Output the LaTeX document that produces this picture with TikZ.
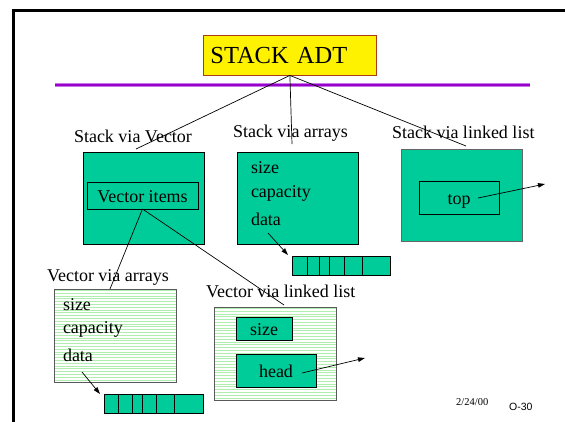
\documentclass[tikz,border=0pt]{standalone}
\usepackage{fontspec}
\setmainfont{Liberation Serif}
\newfontfamily\arialfont{Liberation Sans}
\usetikzlibrary{arrows.meta,calc}
\definecolor{tealfill}{RGB}{0,204,153}
\definecolor{stripecol}{RGB}{175,238,175}
\definecolor{purp}{RGB}{153,0,204}
\definecolor{purplight}{RGB}{200,120,230}
\definecolor{titleborder}{RGB}{170,60,20}
\begin{document}
\begin{tikzpicture}[x=1pt,y=-1pt,
  lbl/.style={inner sep=0pt, outer sep=0pt, anchor=base west, font=\fontsize{18}{20}\selectfont},
  tealbox/.style={draw=black, line width=0.8pt, fill=tealfill, inner sep=0pt, outer sep=0pt, anchor=north west},
  innerbox/.style={tealbox, font=\fontsize{18}{20}\selectfont, text height=14pt, text depth=0pt},
  stripebox/.style={draw=black!65, line width=0.8pt, fill=white, inner sep=0pt, outer sep=0pt, anchor=north west,
    path picture={\foreach \yy in {1.5,4.3,...,100} \draw[stripecol, line width=1pt]
      ([yshift=-\yy pt]path picture bounding box.north west) -- ([yshift=-\yy pt]path picture bounding box.north east);}},
  cellrow/.style={draw=black, line width=0.8pt, fill=tealfill, inner sep=0pt, outer sep=0pt, anchor=north west, minimum height=19pt},
  conn/.style={line width=0.7pt},
  arr/.style={line width=0.7pt, -{Triangle[length=7pt,width=4.5pt]}}]

\useasboundingbox (0,0) rectangle (565,421);

% slide border
\draw[line width=2.6pt] (13.5,440) -- (13.5,10.5) -- (580,10.5);

% title
\node[draw=titleborder, fill=yellow, line width=0.8pt, anchor=north west,
      minimum height=39.6pt, inner xsep=7pt, inner ysep=0pt, text width=159pt, align=left,
      font=\fontsize{24.5}{26}\selectfont] (title) at (203,35) {STACK ADT};

% purple rule
\draw[purplight, line width=3.6pt] (55,85) -- (530,85);
\draw[purp, line width=2pt] (55,85) -- (530,85);

% top level labels
\node[lbl] (lsv) at (74,142) {Stack via Vector};
\node[lbl] (lsa) at (233,137) {Stack via arrays};
\node[lbl] (lsl) at (392,138) {Stack via linked list};

% Stack via Vector
\node[tealbox, minimum width=121pt, minimum height=92pt] (svbox) at (83,152) {};
\node[innerbox, minimum width=111pt, minimum height=27pt] (vitems) at (87,182) {Vector items};

% Stack via arrays
\node[tealbox, minimum width=121pt, minimum height=92pt] (sabox) at (237,152) {};
\node[lbl] (sasize) at (251,173) {size};
\node[lbl] (sacap) at (251,197) {capacity};
\node[lbl] (sadata) at (251,225) {data};
\node[cellrow, minimum width=98pt] (saarr) at (292,256) {};
\foreach \xx in {307,319,329,344,362} \draw[line width=0.8pt] (\xx,256) -- (\xx,275);

% Stack via linked list
\node[tealbox, draw=black!60, minimum width=121pt, minimum height=92pt] (slbox) at (401,149) {};
\node[innerbox, minimum width=80pt, minimum height=33pt] (top) at (419,181) {top};

% Vector via arrays
\node[lbl] (lva) at (47,281) {Vector via arrays};
\node[stripebox, minimum width=122pt, minimum height=93pt] (vabox) at (54,289) {};
\node[lbl] (vasize) at (63,310) {size};
\node[lbl] (vacap) at (63,333.3) {capacity};
\node[lbl] (vadata) at (63,361.7) {data};
\node[cellrow, minimum width=99pt] (vaarr) at (104,394) {};
\foreach \xx in {118,132,142,156,174} \draw[line width=0.8pt] (\xx,394) -- (\xx,413);

% Vector via linked list
\node[lbl] (lvl) at (206,297) {Vector via linked list};
\node[stripebox, minimum width=122pt, minimum height=93pt] (vlbox) at (214,307) {};
\node[innerbox, minimum width=56pt, minimum height=23pt] (vlsize) at (236,317) {size};
\node[innerbox, minimum width=80pt, minimum height=33pt] (vlhead) at (236,354) {head};

% connector end points
\coordinate (csv) at (136,149);
\coordinate (csa) at (292,144);
\coordinate (csl) at (466,146);
\coordinate (cva) at (110,289);
\coordinate (cvl) at (284,305);
\coordinate (sadatafrom) at (268,233);
\coordinate (sadatato) at (288,255);
\coordinate (vadatafrom) at (82,372);
\coordinate (vadatato) at (100,394);
\coordinate (topfrom) at (478,198);
\coordinate (topto) at (545,184);
\coordinate (headfrom) at (302,373);
\coordinate (headto) at (365,358);

% connectors
\draw[conn] (title.south) -- (csv);
\draw[conn] (title.south) -- (csa);
\draw[conn] (title.south) -- (csl);
\draw[conn] (vitems.south) -- (cva);
\draw[conn] (vitems.south) -- (cvl);
\draw[arr] (sadatafrom) -- (sadatato);
\draw[arr] (vadatafrom) -- (vadatato);
\draw[arr] (topfrom) -- (topto);
\draw[arr] (headfrom) -- (headto);

% footer
\node[inner sep=0pt, anchor=base west, font=\fontsize{10.5}{12}\selectfont] (date) at (456,405) {2/24/00};
\node[inner sep=0pt, anchor=base west, font=\arialfont\fontsize{10.5}{12}\selectfont] (pageno) at (509,410) {O-30};
\end{tikzpicture}
\end{document}
